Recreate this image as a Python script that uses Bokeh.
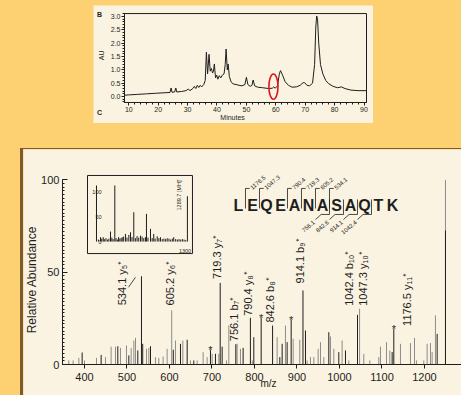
import math
from bokeh.plotting import figure
from bokeh.models import (Range1d, Spacer, SingleIntervalTicker, FixedTicker,
                          GlobalInlineStyleSheet, ColumnDataSource, NumeralTickFormatter)
from bokeh.layouts import column, row
from bokeh.embed import file_html
from bokeh.resources import INLINE
from bokeh.core.properties import value

# ---------------- data ----------------
# HPLC chromatogram (panel B)
chrom_minutes = [8.5, 10, 13, 16, 19, 22, 24.0, 24.4, 24.7, 25.6, 26.0, 26.3, 28, 29.5, 30.2, 30.8,
                 31.8, 32.3, 32.8, 33.3, 33.8, 34.3, 34.8, 35.5, 36.0, 36.4, 36.8, 37.3, 37.7, 38.1,
                 38.5, 38.8, 39.1, 39.5, 39.9, 40.3, 40.8, 41.3, 41.8, 42.4, 42.8, 43.1, 43.5, 43.8,
                 44.2, 44.8, 45.5, 46.5, 47.5, 48.5, 49.5, 50.0, 50.5, 51.3, 51.9, 52.3, 52.8, 53.8,
                 55.5, 57.5, 58.8, 59.3, 59.8, 60.6, 61.2, 61.6, 62.3, 63.2, 64.3, 65.5, 67.0, 68.3,
                 69.3, 69.8, 70.6, 71.5, 72.5, 73.2, 73.6, 73.9, 74.2, 74.6, 75.2, 76.0, 77.0, 78.0,
                 79.5, 81.0, 82.3, 83.5, 85.5, 88.0, 91.0]
chrom_au = [0.05, 0.06, 0.08, 0.10, 0.12, 0.14, 0.15, 0.32, 0.16, 0.17, 0.32, 0.17, 0.19, 0.22, 0.28, 0.22,
            0.30, 0.38, 0.30, 0.42, 0.34, 0.42, 0.36, 0.45, 0.60, 1.66, 0.85, 1.58, 0.95, 1.05,
            0.88, 0.95, 1.22, 0.70, 0.80, 0.65, 0.78, 0.70, 0.80, 0.85, 1.20, 1.78, 1.00, 1.22,
            0.75, 0.55, 0.47, 0.45, 0.42, 0.40, 0.45, 0.72, 0.45, 0.38, 0.42, 0.62, 0.40, 0.35,
            0.33, 0.30, 0.31, 0.36, 0.31, 0.40, 0.85, 0.97, 0.80, 0.55, 0.42, 0.35, 0.36, 0.42,
            0.52, 0.52, 0.42, 0.40, 0.50, 1.20, 2.60, 3.02, 2.90, 2.00, 1.20, 0.85, 0.60, 0.48,
            0.38, 0.33, 0.36, 0.30, 0.24, 0.22, 0.22]
marked_min = [59.2]
marked_au = [0.37]

# MS/MS spectrum (panel C)
dark_mz = [394.5, 439.2, 478.4, 504.3, 525.5, 534.1, 537.0, 555.3, 609.0, 625.9, 641.6, 657.2,
           696.4, 708.2, 719.3, 723.9, 756.1, 773.3, 790.4, 798.4, 815.7, 842.6, 859.6, 865.1,
           876.8, 886.3, 914.1, 920.0, 974.9, 998.4, 1014.1, 1042.4, 1123.9, 1127.8, 1229.8, 1249.4]
dark_h = [6.5, 5.2, 9.9, 4.9, 7.6, 47.8, 11.2, 9.9, 8.0, 11.2, 13.4, 2.2,
          8.0, 5.8, 44.2, 9.7, 11.0, 9.0, 25.3, 14.8, 25.3, 21.1, 4.0, 11.2,
          12.1, 24.2, 40.1, 18.4, 17.5, 6.7, 7.6, 26.9, 6.7, 19.3, 16.6, 72.6]
gray_mz = [363.1, 373.3, 386.7, 400.0, 428.2, 449.4, 462.7, 472.9, 484.7, 498.8, 509.8, 516.1,
           520.0, 545.9, 551.4, 567.0, 574.9, 585.1, 594.5, 605.2, 614.1, 631.4, 649.4, 665.1,
           679.2, 688.6, 700.4, 716.1, 734.1, 739.6, 759.2, 767.0, 795.0, 853.3, 872.9, 891.0,
           906.6, 923.9, 931.7, 939.6, 949.8, 955.3, 963.1, 978.8, 986.6, 1006.2, 1021.9, 1047.3,
           1057.2, 1071.3, 1092.5, 1096.4, 1110.6, 1118.4, 1143.5, 1167.0, 1176.5, 1181.1, 1198.4,
           1206.2, 1214.1, 1218.0, 1225.8, 1249.4]
gray_h = [2.2, 2.2, 3.6, 2.2, 3.6, 4.0, 9.7, 9.7, 9.0, 10.3, 9.0, 13.0,
          14.4, 8.5, 9.0, 4.0, 3.6, 4.3, 8.5, 29.3, 13.0, 13.0, 2.2, 2.2,
          6.7, 4.0, 5.8, 5.8, 2.2, 21.1, 11.2, 8.5, 2.2, 14.8, 21.1, 13.9,
          13.4, 2.2, 4.0, 4.0, 8.5, 12.1, 4.0, 15.2, 8.5, 13.0, 2.2, 30.2,
          5.8, 2.2, 4.0, 9.7, 12.1, 7.6, 11.2, 11.6, 14.4, 2.2, 2.2,
          11.2, 11.6, 6.7, 26.6, 100.0]

label_mz = [534.1, 605.2, 719.3, 756.1, 790.4, 842.6, 914.1, 1042.4, 1047.3, 1176.5]
label_h = [47.8, 29.3, 44.2, 11.0, 25.3, 21.1, 40.1, 26.9, 30.2, 14.4]
label_ion = ["y\u2085\u207a", "y\u2086\u207a", "y\u2087\u207a", "b\u2087\u207a", "y\u2088\u207a",
             "b\u2088\u207a", "b\u2089\u207a", "b\u2081\u2080\u207a", "y\u2081\u2080\u207a", "y\u2081\u2081\u207a"]

star_mz = [696.4, 815.7, 886.3, 1127.8]
star_h = [8.0, 25.3, 24.2, 19.3]

# full-scan inset
inset_mz = [207, 255, 287, 374, 425, 513, 552, 592, 612, 651, 731, 802, 850, 889, 930, 969,
            1049, 1127, 1289.7,
            230, 270, 300, 320, 340, 355, 390, 405, 440, 455, 470, 485, 500, 530, 570, 630, 670,
            690, 710, 750, 770, 790, 820, 870, 905, 950, 990, 1010, 1030, 1070, 1090, 1110, 1150,
            1170, 1190, 1210, 1230, 1250, 1270]
inset_h = [113.6, 8.8, 8.8, 20.3, 113.6, 8.8, 15.5, 13.5, 18.9, 59.4, 12.0, 56.1, 25.7, 15.5, 10.8, 8.8,
           6.8, 8.8, 91.9,
           4, 6, 5, 7, 4, 6, 8, 5, 7, 4, 9, 6, 7, 10, 8, 9, 7,
           11, 8, 10, 7, 9, 8, 7, 6, 7, 5, 6, 5, 6, 4, 6, 5,
           4, 5, 4, 5, 4, 3]
inset_yticks = [0, 50, 100]

# peptide sequence and fragment ions
sequence = "LEQEANASAQTK"
y_ion_n = [11, 10, 8, 7, 6, 5]
y_ion_mz = ["1176.5", "1047.3", "790.4", "719.3", "605.2", "534.1"]
b_ion_n = [7, 8, 9, 10]
b_ion_mz = ["756.1", "842.6", "914.1", "1042.4"]

# ---------------- styles / layout ----------------
ORANGE = "#FDD072"
CREAM = "#FAF3E1"
BROWN = "#7B5B2F"
INK = "#1E1E1E"
GRAY = "#8C8C8C"
FONT = "Liberation Sans"

label_dx = [-19, -1.5, -3, -2, -2, -3, -2.5, -9, 3, -7]
label_dy = [29, -5, -4, -3, -2, -3, -7, -9, -3, -12]

# chromatogram: axis extents and visible window of the panel
CH_X = (8.54, 90.85)
CH_Y = (-0.225, 3.11)
CH_VIEW_X = (-2.0, 93.23)
CH_VIEW_Y = (-1.012, 3.412)
# spectrum: axis extents and visible window of the panel
SP_X = (348.2, 1287.1)
SP_Y = (0, 100)
SP_VIEW_X = (256.5, 1287.1)
SP_VIEW_Y = (-16.79, 116.47)


def style_axis(ax, size):
    ax.axis_line_color = INK
    ax.major_tick_line_color = INK
    ax.minor_tick_line_color = INK
    ax.major_label_text_font = FONT
    ax.major_label_text_font_size = size
    ax.major_label_text_color = INK


def txt(target, x, y, text, size, **kw):
    target.text(x=x, y=y, text=text, text_font=value(FONT), text_font_size=size,
                text_color=INK, **kw)


# ---- chromatogram ----
chrom = figure(width=280, height=118, x_range=Range1d(*CH_VIEW_X), y_range=Range1d(*CH_VIEW_Y),
               output_backend="svg", toolbar_location=None,
               min_border_left=0, min_border_right=0, min_border_top=0, min_border_bottom=0,
               background_fill_color=CREAM, border_fill_color=CREAM)
chrom.grid.visible = False
chrom.outline_line_color = None
chrom.quad(left=[CH_X[0]], right=[CH_X[1]], bottom=[CH_Y[0]], top=[CH_Y[1]], fill_alpha=0,
           line_color=INK, line_width=1)
chrom.line(chrom_minutes, chrom_au, line_color=INK, line_width=1)
chrom.ellipse(x=marked_min, y=marked_au, width=3.1, height=0.95, fill_alpha=0,
              line_color="#E4141B", line_width=1.6)
for ax in (chrom.xaxis[0], chrom.yaxis[0]):
    style_axis(ax, "7px")
    ax.major_tick_out = 3
    ax.major_tick_in = 0
    ax.minor_tick_out = 2
    ax.minor_tick_in = 0
    ax.major_label_standoff = 1
chrom.xaxis.fixed_location = CH_Y[0]
chrom.yaxis.fixed_location = CH_X[0]
chrom.xaxis.bounds = CH_X
chrom.yaxis.bounds = CH_Y
chrom.xaxis.ticker = SingleIntervalTicker(interval=10, num_minor_ticks=5)
chrom.yaxis.ticker = SingleIntervalTicker(interval=0.5, num_minor_ticks=5)
chrom.yaxis.formatter = NumeralTickFormatter(format="0.0")
txt(chrom, [45.3], [-0.79], ["Minutes"], "7px", text_align="center", text_baseline="middle")
txt(chrom, [0.75], [1.54], ["AU"], "7px", angle=math.pi / 2, text_align="center",
    text_baseline="middle")
txt(chrom, [0.03, 0.03], [3.07, -0.6], ["B", "C"], "7px", text_align="center",
    text_baseline="middle", text_font_style="bold")

# ---- spectrum ----
spec = figure(width=438, height=246, x_range=Range1d(*SP_VIEW_X), y_range=Range1d(*SP_VIEW_Y),
              output_backend="svg", toolbar_location=None,
              min_border_left=0, min_border_right=0, min_border_top=0, min_border_bottom=0,
              background_fill_color=CREAM, border_fill_color=CREAM)
spec.grid.visible = False
spec.outline_line_color = None
style_axis(spec.xaxis[0], "11px")
style_axis(spec.yaxis[0], "11px")
spec.xaxis.fixed_location = SP_Y[0]
spec.yaxis.fixed_location = SP_X[0]
spec.xaxis.bounds = SP_X
spec.yaxis.bounds = SP_Y
spec.xaxis.ticker = FixedTicker(ticks=list(range(400, 1301, 100)))
spec.xaxis.major_tick_out = 4
spec.xaxis.major_tick_in = 0
spec.xaxis.minor_tick_out = 0
spec.xaxis.major_label_standoff = 4
spec.yaxis.ticker = FixedTicker(ticks=[0, 50, 100], minor_ticks=list(range(0, 101, 2)))
spec.yaxis.major_tick_in = 5
spec.yaxis.major_tick_out = 0
spec.yaxis.minor_tick_in = 2
spec.yaxis.minor_tick_out = 0
spec.yaxis.major_label_standoff = 3
txt(spec, [276.9], [46], ["Relative Abundance"], "12px", angle=math.pi / 2, text_align="center",
    text_baseline="middle")
txt(spec, [833], [-10.3], ["m/z"], "10px", text_align="center", text_baseline="middle")

spec.segment(x0=gray_mz, y0=[0] * len(gray_mz), x1=gray_mz, y1=gray_h, line_color=GRAY, line_width=1)
spec.segment(x0=dark_mz, y0=[0] * len(dark_mz), x1=dark_mz, y1=dark_h, line_color=INK, line_width=1)

lab_src = ColumnDataSource(dict(
    x=label_mz, y=label_h,
    text=[f"{m:.1f} {ion}" for m, ion in zip(label_mz, label_ion)],
    dx=label_dx, dy=label_dy))
spec.text(x="x", y="y", text="text", x_offset="dx", y_offset="dy", source=lab_src,
          angle=math.pi / 2, text_align="left", text_baseline="middle",
          text_font=value(FONT), text_font_size="11px", text_color=INK)

# leader from the 534.1 label to its peak
xpx = (SP_VIEW_X[1] - SP_VIEW_X[0]) / 438.0
ypx = (SP_VIEW_Y[1] - SP_VIEW_Y[0]) / 246.0
lead_i = 0
spec.segment(x0=[label_mz[lead_i] - 13 * xpx], y0=[label_h[lead_i] - 11 * ypx],
             x1=[label_mz[lead_i] - 6 * xpx], y1=[label_h[lead_i] - 1 * ypx],
             line_color=INK, line_width=0.8)

txt(spec, star_mz, star_h, ["*"] * len(star_mz), "11px", text_align="center",
    text_baseline="alphabetic")

# inset (full MS scan)
inset = spec.subplot(x_source=Range1d(100, 1350), y_source=Range1d(-24.3, 133.9),
                     x_target=Range1d(407.1, 654.1), y_target=Range1d(60.1, 102.4))
inset.quad(left=[100], right=[1350], bottom=[-24.3], top=[133.9], fill_color=CREAM,
           line_color=INK, line_width=1)
inset.segment(x0=inset_mz, y0=[0] * len(inset_mz), x1=inset_mz, y1=inset_h,
              line_color=INK, line_width=1)
txt(inset, [267] * 3, inset_yticks, [str(v) for v in inset_yticks], "5.5px", text_align="right",
    text_baseline="middle")
txt(inset, [1334], [-19.7], ["1300"], "5.5px", text_align="right", text_baseline="middle")
txt(inset, [1187], [63], ["1289.7 [MH]\u207a"], "5.5px", angle=math.pi / 2, text_align="left",
    text_baseline="middle")

# peptide sequence with fragment brackets
seqp = spec.subplot(x_source=Range1d(0, 12), y_source=Range1d(-1, 1),
                    x_target=Range1d(745.9, 1141.2), y_target=Range1d(75.3, 97.0))
txt(seqp, [i + 0.5 for i in range(len(sequence))], [0] * len(sequence), list(sequence), "16px",
    text_align="center", text_baseline="middle", text_font_style="bold")
yk = [len(sequence) - n for n in y_ion_n]
seqp.multi_line(xs=[[k, k, k + 0.3] for k in yk], ys=[[-0.15, 0.85, 0.85] for _ in yk],
                line_color=INK, line_width=0.8)
txt(seqp, [k + 0.4 for k in yk], [0.85] * len(yk), y_ion_mz, "6px", angle=math.radians(40),
    text_align="left", text_baseline="middle")
bk = list(b_ion_n)
seqp.multi_line(xs=[[k, k, k - 0.6, k - 1.0] for k in bk], ys=[[0.3, -0.45, -0.45, -0.7] for _ in bk],
                line_color=INK, line_width=0.8)
txt(seqp, [k - 1.1 for k in bk], [-0.8] * len(bk), b_ion_mz, "6px", angle=math.radians(40),
    text_align="right", text_baseline="middle")

# ---- page layout ----
top_row = row(Spacer(width=93, height=118), chrom)
bottom_row = row(Spacer(width=20, height=247),
                 Spacer(width=3, height=247, styles={"background-color": BROWN}),
                 column(Spacer(width=438, height=1, styles={"background-color": BROWN}), spec))
root = column(Spacer(width=461, height=5), top_row, Spacer(width=461, height=25), bottom_row)
root.stylesheets = [GlobalInlineStyleSheet(
    css=f"html, body {{ margin: 0; padding: 0; background: {ORANGE}; }}")]

open("out.html", "w").write(file_html(root, INLINE))
